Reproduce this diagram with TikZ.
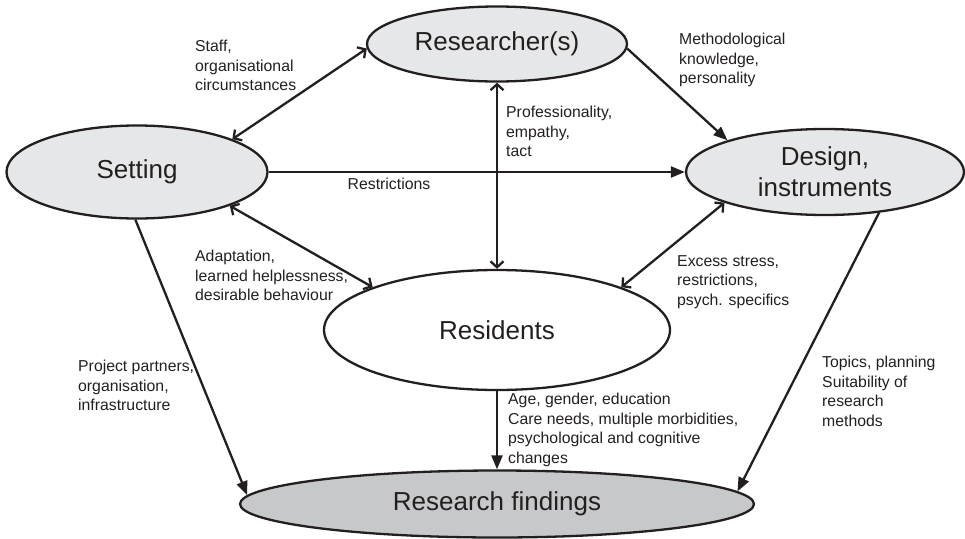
\documentclass[tikz,border=0pt]{standalone}
\usepackage{fontspec}
\setmainfont{Liberation Sans}
\usetikzlibrary{shapes.geometric,arrows.meta}
\definecolor{ink}{HTML}{231F20}
\definecolor{lightfill}{HTML}{E6E7E8}
\definecolor{darkfill}{HTML}{C7C8CA}
\begin{document}
\begin{tikzpicture}[x=1pt,y=-1pt,
  entity/.style={ellipse, draw=ink, line width=2.3pt, inner sep=0pt,
    font=\fontsize{26}{31}\selectfont, text=ink, align=center},
  lbl/.style={font=\fontsize{15.8}{19.6}\selectfont, text=ink, align=left,
    inner sep=0pt, anchor=north west},
  link/.style={draw=ink, line width=2.3pt},
  one/.style={link, -{Triangle[length=14pt,width=11pt]}},
  two/.style={link, {Straight Barb[length=6pt,width=13pt]}-{Straight Barb[length=6pt,width=13pt]}}
]
\useasboundingbox (0,0) rectangle (965,538);

% the five actors
\node[entity, fill=lightfill, minimum width=260pt, minimum height=75pt] (res) at (497,44) {Researcher(s)};
\node[entity, fill=lightfill, minimum width=261pt, minimum height=93pt] (set) at (137,172) {Setting};
\node[entity, fill=lightfill, minimum width=278pt, minimum height=86pt] (des) at (825,172) {Design,\\instruments};
\node[entity, fill=white, minimum width=346pt, minimum height=120pt] (rsd) at (497,330) {Residents};
\node[entity, fill=darkfill, minimum width=514pt, minimum height=67pt] (fin) at (497,504) {Research findings};

% influences
\draw[two] (set.19) -- (res.182);
\draw[one] (res.358) -- (des.162);
\draw[one] (set.east) -- (des.west);
\draw[two] (res.south) -- (rsd.north);
\draw[two] (set.-20) -- (rsd.161);
\draw[two] (des.197) -- (rsd.19);
\draw[one] (set.268) -- (fin.178);
\draw[one] (rsd.south) -- (fin.north);
\draw[one] (des.-37) -- (fin.3);

% labels on the influences
\node[lbl] (l1) at (195,40) {Staff,\\organisational\\circumstances};
\node[lbl] (l2) at (679,33) {Methodological\\knowledge,\\personality};
\node[lbl] (l3) at (506,106) {Professionality,\\empathy,\\tact};
\node[lbl, anchor=north] (l4) at (389,178) {Restrictions};
\node[lbl] (l5) at (195,250) {Adaptation,\\learned helplessness,\\desirable behaviour};
\node[lbl] (l6) at (677,255) {Excess stress,\\restrictions,\\psych. specifics};
\node[lbl] (l7) at (78,360) {Project partners,\\organisation,\\infrastructure};
\node[lbl] (l8) at (508,393) {Age, gender, education\\Care needs, multiple morbidities,\\psychological and cognitive\\changes};
\node[lbl] (l9) at (822,356) {Topics, planning\\Suitability of\\research\\methods};
\end{tikzpicture}
\end{document}
